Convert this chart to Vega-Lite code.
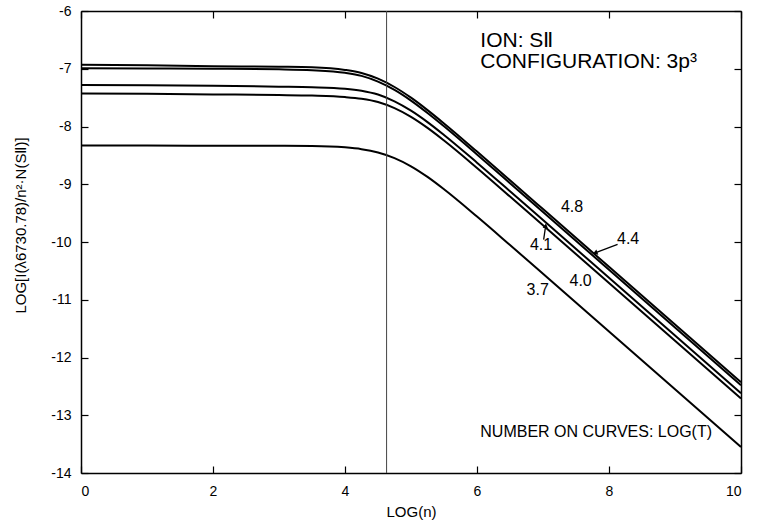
{
  "$schema": "https://vega.github.io/schema/vega-lite/v6.json",
  "width": 660,
  "height": 462,
  "autosize": {"type": "none"},
  "padding": {"left": 81, "top": 11, "right": 31, "bottom": 55},
  "background": "white",
  "config": {
    "font": "Liberation Sans",
    "view": {"stroke": null},
    "axis": {
      "grid": false,
      "domainColor": "black",
      "tickColor": "black",
      "labelColor": "black",
      "titleColor": "black",
      "labelFont": "Liberation Sans",
      "titleFont": "Liberation Sans",
      "labelFontSize": 14,
      "titleFontSize": 15,
      "titleFontWeight": "normal",
      "domainWidth": 1.5,
      "tickWidth": 1.2
    }
  },
  "datasets": {
    "curves": [
      {"T": "4.8", "x": 0, "y": -6.93}, {"T": "4.8", "x": 1, "y": -6.94}, {"T": "4.8", "x": 2, "y": -6.955}, {"T": "4.8", "x": 3, "y": -6.965}, {"T": "4.8", "x": 3.5, "y": -6.975}, {"T": "4.8", "x": 4, "y": -7.02}, {"T": "4.8", "x": 4.25, "y": -7.073}, {"T": "4.8", "x": 4.5, "y": -7.172}, {"T": "4.8", "x": 4.75, "y": -7.316}, {"T": "4.8", "x": 5, "y": -7.501}, {"T": "4.8", "x": 5.25, "y": -7.716}, {"T": "4.8", "x": 5.5, "y": -7.947}, {"T": "4.8", "x": 6, "y": -8.434}, {"T": "4.8", "x": 6.5, "y": -8.931}, {"T": "4.8", "x": 7, "y": -9.43}, {"T": "4.8", "x": 8, "y": -10.43}, {"T": "4.8", "x": 9, "y": -11.43}, {"T": "4.8", "x": 10, "y": -12.43},
      {"T": "4.4", "x": 0, "y": -6.99}, {"T": "4.4", "x": 1, "y": -6.995}, {"T": "4.4", "x": 2, "y": -7.0}, {"T": "4.4", "x": 3, "y": -7.01}, {"T": "4.4", "x": 3.5, "y": -7.025}, {"T": "4.4", "x": 4, "y": -7.07}, {"T": "4.4", "x": 4.25, "y": -7.123}, {"T": "4.4", "x": 4.5, "y": -7.222}, {"T": "4.4", "x": 4.75, "y": -7.366}, {"T": "4.4", "x": 5, "y": -7.551}, {"T": "4.4", "x": 5.25, "y": -7.766}, {"T": "4.4", "x": 5.5, "y": -7.997}, {"T": "4.4", "x": 6, "y": -8.484}, {"T": "4.4", "x": 6.5, "y": -8.981}, {"T": "4.4", "x": 7, "y": -9.48}, {"T": "4.4", "x": 8, "y": -10.48}, {"T": "4.4", "x": 9, "y": -11.48}, {"T": "4.4", "x": 10, "y": -12.48},
      {"T": "4.1", "x": 0, "y": -7.28}, {"T": "4.1", "x": 1, "y": -7.285}, {"T": "4.1", "x": 2, "y": -7.295}, {"T": "4.1", "x": 3, "y": -7.31}, {"T": "4.1", "x": 3.5, "y": -7.32}, {"T": "4.1", "x": 4, "y": -7.345}, {"T": "4.1", "x": 4.25, "y": -7.38}, {"T": "4.1", "x": 4.5, "y": -7.447}, {"T": "4.1", "x": 4.75, "y": -7.564}, {"T": "4.1", "x": 5, "y": -7.726}, {"T": "4.1", "x": 5.25, "y": -7.924}, {"T": "4.1", "x": 5.5, "y": -8.147}, {"T": "4.1", "x": 6, "y": -8.626}, {"T": "4.1", "x": 6.5, "y": -9.121}, {"T": "4.1", "x": 7, "y": -9.62}, {"T": "4.1", "x": 8, "y": -10.62}, {"T": "4.1", "x": 9, "y": -11.62}, {"T": "4.1", "x": 10, "y": -12.62},
      {"T": "4.0", "x": 0, "y": -7.43}, {"T": "4.0", "x": 1, "y": -7.435}, {"T": "4.0", "x": 2, "y": -7.445}, {"T": "4.0", "x": 3, "y": -7.455}, {"T": "4.0", "x": 3.5, "y": -7.465}, {"T": "4.0", "x": 4, "y": -7.49}, {"T": "4.0", "x": 4.25, "y": -7.52}, {"T": "4.0", "x": 4.5, "y": -7.576}, {"T": "4.0", "x": 4.75, "y": -7.682}, {"T": "4.0", "x": 5, "y": -7.833}, {"T": "4.0", "x": 5.25, "y": -8.024}, {"T": "4.0", "x": 5.5, "y": -8.242}, {"T": "4.0", "x": 6, "y": -8.717}, {"T": "4.0", "x": 6.5, "y": -9.212}, {"T": "4.0", "x": 7, "y": -9.71}, {"T": "4.0", "x": 8, "y": -10.71}, {"T": "4.0", "x": 9, "y": -11.71}, {"T": "4.0", "x": 10, "y": -12.71},
      {"T": "3.7", "x": 0, "y": -8.33}, {"T": "3.7", "x": 1, "y": -8.33}, {"T": "3.7", "x": 2, "y": -8.332}, {"T": "3.7", "x": 3, "y": -8.334}, {"T": "3.7", "x": 3.5, "y": -8.337}, {"T": "3.7", "x": 4, "y": -8.361}, {"T": "3.7", "x": 4.25, "y": -8.392}, {"T": "3.7", "x": 4.5, "y": -8.45}, {"T": "3.7", "x": 4.75, "y": -8.547}, {"T": "3.7", "x": 5, "y": -8.689}, {"T": "3.7", "x": 5.25, "y": -8.873}, {"T": "3.7", "x": 5.5, "y": -9.087}, {"T": "3.7", "x": 6, "y": -9.559}, {"T": "3.7", "x": 6.5, "y": -10.052}, {"T": "3.7", "x": 7, "y": -10.55}, {"T": "3.7", "x": 8, "y": -11.55}, {"T": "3.7", "x": 9, "y": -12.55}, {"T": "3.7", "x": 10, "y": -13.55}
    ],
    "curveLabels": [
      {"label": "4.8", "x": 7.44, "y": -9.4},
      {"label": "4.4", "x": 8.29, "y": -9.95},
      {"label": "4.1", "x": 6.97, "y": -10.06},
      {"label": "4.0", "x": 7.57, "y": -10.68},
      {"label": "3.7", "x": 6.92, "y": -10.83}
    ],
    "arrows": [
      {"x": 8.13, "y": -10.04, "x2": 7.79, "y2": -10.19, "angle": 249},
      {"x": 7.01, "y": -9.96, "x2": 7.04, "y2": -9.72, "angle": 8}
    ],
    "notes": [
      {"text": "ION: SⅡ", "x": 6.05, "y": -6.63, "size": 21},
      {"text": "CONFIGURATION: 3p³", "x": 6.05, "y": -6.99, "size": 21},
      {"text": "NUMBER ON CURVES: LOG(T)", "x": 6.05, "y": -13.38, "size": 16}
    ],
    "vline": [{"logn": 4.63}]
  },
  "layer": [
    {
      "data": {"name": "curves"},
      "mark": {"type": "line", "color": "black", "strokeWidth": 2, "interpolate": "monotone"},
      "encoding": {
        "x": {"field": "x", "type": "quantitative", "scale": {"domain": [0, 10], "nice": false, "zero": false},
          "axis": {"orient": "bottom", "values": [0, 2, 4, 6, 8, 10], "tickSize": -7, "labelPadding": 18, "title": "LOG(n)", "titlePadding": 6, "labelExpr": "'' + datum.value"}},
        "y": {"field": "y", "type": "quantitative", "scale": {"domain": [-14, -6], "nice": false, "zero": false},
          "axis": {"orient": "left", "values": [-14, -13, -12, -11, -10, -9, -8, -7, -6], "tickSize": -7, "labelPadding": 17, "title": "LOG[I(λ6730.78)/n²·N(SⅡ)]", "titlePadding": 22, "titleY": 214, "labelExpr": "'' + datum.value"}},
        "detail": {"field": "T", "type": "nominal"}
      }
    },
    {
      "data": {"name": "curves"},
      "mark": {"type": "point", "opacity": 0},
      "encoding": {
        "x": {"field": "x", "type": "quantitative", "scale": {"domain": [0, 10], "nice": false, "zero": false},
          "axis": {"orient": "top", "values": [0, 2, 4, 6, 8, 10], "tickSize": -7, "labels": false, "title": null}},
        "y": {"field": "y", "type": "quantitative", "scale": {"domain": [-14, -6], "nice": false, "zero": false},
          "axis": {"orient": "right", "values": [-14, -13, -12, -11, -10, -9, -8, -7, -6], "tickSize": -7, "labels": false, "title": null}}
      }
    },
    {
      "data": {"name": "vline"},
      "mark": {"type": "rule", "color": "#444444", "strokeWidth": 1},
      "encoding": {
        "x": {"field": "logn", "type": "quantitative", "scale": {"domain": [0, 10], "nice": false, "zero": false}, "axis": null}
      }
    },
    {
      "data": {"name": "arrows"},
      "mark": {"type": "rule", "color": "black", "strokeWidth": 1.3},
      "encoding": {
        "x": {"field": "x", "type": "quantitative", "scale": {"domain": [0, 10], "nice": false, "zero": false}, "axis": null},
        "y": {"field": "y", "type": "quantitative", "scale": {"domain": [-14, -6], "nice": false, "zero": false}, "axis": null},
        "x2": {"field": "x2"},
        "y2": {"field": "y2"}
      }
    },
    {
      "data": {"name": "arrows"},
      "mark": {"type": "point", "shape": "triangle-up", "filled": true, "color": "black", "size": 30, "opacity": 1},
      "encoding": {
        "x": {"field": "x2", "type": "quantitative", "scale": {"domain": [0, 10], "nice": false, "zero": false}, "axis": null},
        "y": {"field": "y2", "type": "quantitative", "scale": {"domain": [-14, -6], "nice": false, "zero": false}, "axis": null},
        "angle": {"field": "angle", "type": "quantitative", "scale": null}
      }
    },
    {
      "data": {"name": "curveLabels"},
      "mark": {"type": "text", "fontSize": 16, "color": "black", "align": "center", "baseline": "middle"},
      "encoding": {
        "x": {"field": "x", "type": "quantitative", "scale": {"domain": [0, 10], "nice": false, "zero": false}, "axis": null},
        "y": {"field": "y", "type": "quantitative", "scale": {"domain": [-14, -6], "nice": false, "zero": false}, "axis": null},
        "text": {"field": "label"}
      }
    },
    {
      "data": {"name": "notes"},
      "mark": {"type": "text", "color": "black", "align": "left", "baseline": "alphabetic"},
      "encoding": {
        "x": {"field": "x", "type": "quantitative", "scale": {"domain": [0, 10], "nice": false, "zero": false}, "axis": null},
        "y": {"field": "y", "type": "quantitative", "scale": {"domain": [-14, -6], "nice": false, "zero": false}, "axis": null},
        "text": {"field": "text"},
        "size": {"field": "size", "type": "quantitative", "scale": null}
      }
    }
  ],
  "resolve": {"axis": {"x": "independent", "y": "independent"}}
}
